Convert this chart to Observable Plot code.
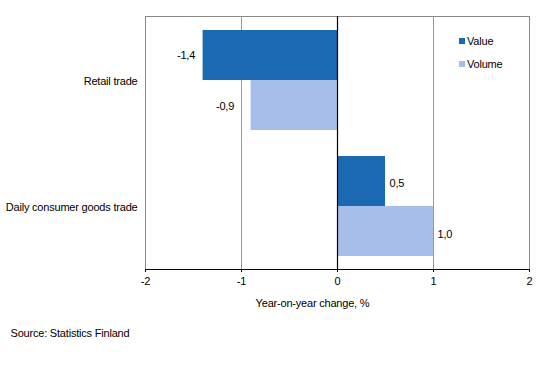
<!DOCTYPE html>
<html>
<head>
<meta charset="utf-8">
<script src="https://cdn.jsdelivr.net/npm/d3@7"></script>
<script src="https://cdn.jsdelivr.net/npm/@observablehq/plot@0.6"></script>
<style>
  html, body { margin: 0; padding: 0; background: #fff; }
  #wrap { position: relative; width: 541px; height: 365px; font-family: "Liberation Sans", Arial, sans-serif; }
  #wrap svg { font-family: "Liberation Sans", Arial, sans-serif; font-size: 11px; letter-spacing: -0.2px; }
  .legend { position: absolute; left: 459px; font-size: 11px; letter-spacing: -0.2px; color: #000; line-height: 12px; }
  .legend span.sw { display: inline-block; width: 6px; height: 6px; margin-right: 2px; vertical-align: 1px; }
</style>
</head>
<body>
<div id="wrap"></div>
<script>
const categories = ["Retail trade", "Daily consumer goods trade"];
const seriesNames = ["Value", "Volume"];
const valueSeries = [-1.4, 0.5];
const volumeSeries = [-0.9, 1.0];
const xTicks = [-2, -1, 0, 1, 2];
const colors = ["#1a69b1", "#a8beea"];

const rows = [];
categories.forEach((c, i) => {
  rows.push({category: c, series: "Value", v: valueSeries[i]});
  rows.push({category: c, series: "Volume", v: volumeSeries[i]});
});

const W = 541, H = 365;
const mT = 16, mB = 96, mL = 145, mR = 12;
const pInner = 0.21, pOuter = 0.105;
const innerH = H - mT - mB;
const step = innerH / (categories.length - pInner + 2 * pOuter);
const bw = step * (1 - pInner);
const half = bw / 2;

const fmt = d => d.toFixed(1).replace(".", ",");
const valRows = rows.filter(d => d.series === "Value");
const volRows = rows.filter(d => d.series === "Volume");

const chart = Plot.plot({
  width: W,
  height: H,
  marginTop: mT,
  marginBottom: mB,
  marginLeft: mL,
  marginRight: mR,
  x: {domain: [-2, 2], ticks: xTicks, label: null},
  y: {domain: categories, paddingInner: pInner, paddingOuter: pOuter, label: null},
  marks: [
    Plot.ruleX([-1, 1], {stroke: "#999", strokeWidth: 1}),
    Plot.frame({stroke: "#888", strokeWidth: 1}),
    Plot.barX(valRows, {x: "v", y: "category", fill: colors[0], insetBottom: half, insetTop: 0}),
    Plot.barX(volRows, {x: "v", y: "category", fill: colors[1], insetTop: half, insetBottom: 0}),
    Plot.ruleX([0], {stroke: "#000", strokeWidth: 1.2}),
    Plot.frame({anchor: "bottom", stroke: "#000", strokeWidth: 1.2}),
    Plot.axisX({ticks: xTicks, tickFormat: d => String(d), tickSize: 3, tickPadding: 5, label: null, stroke: "#000", fill: "#000"}),
    Plot.axisY({tickSize: 0, tickPadding: 8, label: null, fill: "#000", dy: 1}),
    // value labels
    Plot.text(valRows.filter(d => d.v < 0), {x: "v", y: "category", text: d => fmt(d.v), textAnchor: "end", dx: -8, dy: -half / 2, fill: "#000"}),
    Plot.text(volRows.filter(d => d.v < 0), {x: "v", y: "category", text: d => fmt(d.v), textAnchor: "end", dx: -17, dy: half / 2 + 1, fill: "#000"}),
    Plot.text(valRows.filter(d => d.v >= 0), {x: "v", y: "category", text: d => fmt(d.v), textAnchor: "start", dx: 4, dy: -half / 2 + 2, fill: "#000"}),
    Plot.text(volRows.filter(d => d.v >= 0), {x: "v", y: "category", text: d => fmt(d.v), textAnchor: "start", dx: 4, dy: half / 2 + 3, fill: "#000"}),
    // axis title and source
    Plot.text(["Year-on-year change, %"], {frameAnchor: "bottom", dx: -25, dy: 37, fill: "#000"}),
    Plot.text(["Source: Statistics Finland"], {frameAnchor: "bottom-left", textAnchor: "start", dx: -135, dy: 67, fill: "#000"})
  ]
});

const wrap = document.getElementById("wrap");
wrap.appendChild(chart);

// legend
const legendTops = [35, 58];
seriesNames.forEach((s, i) => {
  const el = document.createElement("div");
  el.className = "legend";
  el.style.top = legendTops[i] + "px";
  const sw = document.createElement("span");
  sw.className = "sw";
  sw.style.background = colors[i];
  el.appendChild(sw);
  el.appendChild(document.createTextNode(s));
  wrap.appendChild(el);
});
</script>
</body>
</html>
